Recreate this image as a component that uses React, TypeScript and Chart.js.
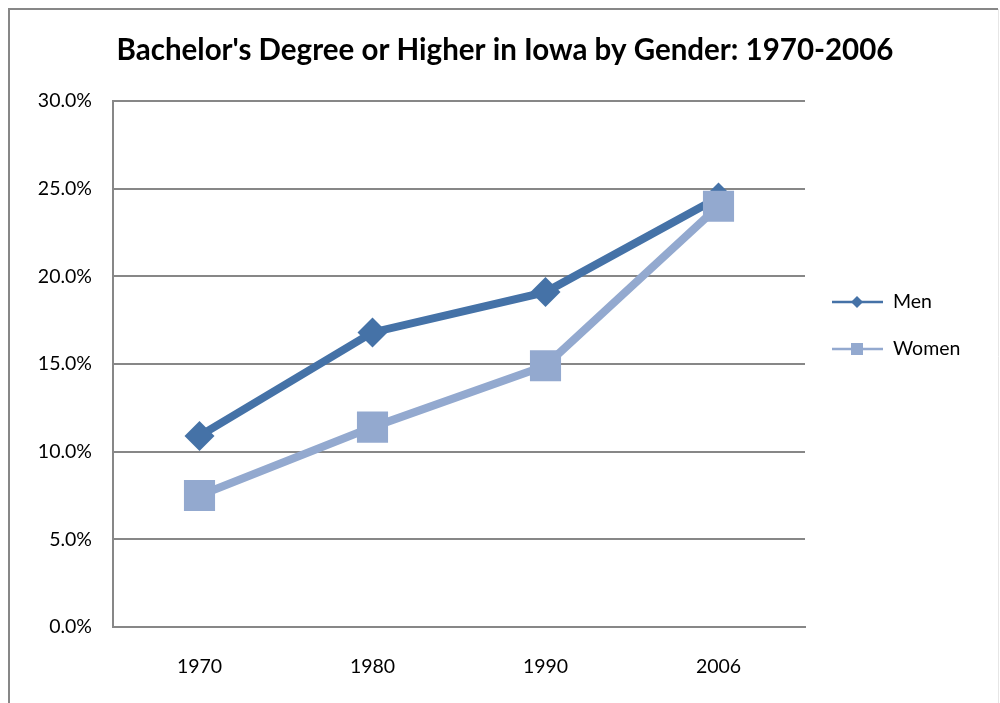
import React, { useEffect, useRef } from "react";
import { Chart, registerables } from "chart.js";

Chart.register(...registerables);

const title = "Bachelor's Degree or Higher in Iowa by Gender: 1970-2006";
const years = ["1970", "1980", "1990", "2006"];
const menValues = [10.9, 16.8, 19.1, 24.5];
const womenValues = [7.5, 11.4, 14.9, 24.0];
const seriesNames = ["Men", "Women"];
const yTicks = [0, 5, 10, 15, 20, 25, 30];

const MEN_COLOR = "#4572A7";
const WOMEN_COLOR = "#93A9CF";
const GRID = "#878787";
const FONT = "Lato, 'Open Sans', sans-serif";

const framePlugin = {
  id: "frame",
  beforeDraw(chart: any) {
    const ctx = chart.ctx;
    ctx.save();
    ctx.fillStyle = "#fff";
    ctx.fillRect(0, 0, chart.width, chart.height);
    ctx.strokeStyle = GRID;
    ctx.lineWidth = 2;
    ctx.beginPath();
    ctx.moveTo(9, chart.height + 5);
    ctx.lineTo(9, 9);
    ctx.lineTo(998, 9);
    ctx.stroke();
    ctx.strokeStyle = "#e6e6e6";
    ctx.lineWidth = 1;
    ctx.beginPath();
    ctx.moveTo(998.5, 9);
    ctx.lineTo(998.5, chart.height + 5);
    ctx.stroke();
    ctx.restore();
  },
  afterDraw(chart: any) {
    const ctx = chart.ctx;
    ctx.save();
    // title
    ctx.fillStyle = "#000";
    ctx.font = `bold 29.5px ${FONT}`;
    ctx.textAlign = "center";
    ctx.textBaseline = "middle";
    ctx.fillText(title, 505, 50);
    // legend
    const entries = [
      { label: seriesNames[0], color: MEN_COLOR, style: "diamond", y: 302 },
      { label: seriesNames[1], color: WOMEN_COLOR, style: "square", y: 349 },
    ];
    entries.forEach((e) => {
      ctx.strokeStyle = e.color;
      ctx.lineWidth = 2.5;
      ctx.beginPath();
      ctx.moveTo(832, e.y);
      ctx.lineTo(883, e.y);
      ctx.stroke();
      ctx.fillStyle = e.color;
      if (e.style === "diamond") {
        ctx.beginPath();
        ctx.moveTo(857, e.y - 6);
        ctx.lineTo(863, e.y);
        ctx.lineTo(857, e.y + 6);
        ctx.lineTo(851, e.y);
        ctx.closePath();
        ctx.fill();
      } else {
        ctx.fillRect(851, e.y - 6, 12, 12);
      }
      ctx.fillStyle = "#000";
      ctx.font = `19.5px ${FONT}`;
      ctx.textAlign = "left";
      ctx.textBaseline = "middle";
      ctx.fillText(e.label, 893, e.y);
    });
    ctx.restore();
  },
};

export default function App() {
  const ref = useRef<HTMLCanvasElement | null>(null);
  useEffect(() => {
    document.body.style.margin = "0";
    const chart = new Chart(ref.current as HTMLCanvasElement, {
      type: "line",
      data: {
        labels: years,
        datasets: [
          {
            label: seriesNames[0],
            data: menValues,
            borderColor: MEN_COLOR,
            backgroundColor: MEN_COLOR,
            borderWidth: 8,
            pointStyle: "rectRot",
            pointRadius: 15,
            pointBorderWidth: 0,
            pointBackgroundColor: MEN_COLOR,
            order: 1,
          },
          {
            label: seriesNames[1],
            data: womenValues,
            borderColor: WOMEN_COLOR,
            backgroundColor: WOMEN_COLOR,
            borderWidth: 8,
            pointStyle: "rect",
            pointRadius: 22,
            pointBorderWidth: 0,
            pointBackgroundColor: WOMEN_COLOR,
            order: 0,
          },
        ],
      },
      options: {
        animation: false,
        responsive: false,
        devicePixelRatio: 1,
        layout: { padding: { left: 0, top: 101, right: 195, bottom: 0 } },
        plugins: {
          legend: { display: false },
          title: { display: false },
          tooltip: { enabled: false },
        },
        scales: {
          x: {
            offset: true,
            grid: { display: false, drawTicks: false },
            border: { display: true, color: GRID, width: 2 },
            ticks: { color: "#000", font: { family: FONT, size: 19.5 }, padding: 28 },
            afterFit(scale: any) {
              scale.height = 76;
            },
          },
          y: {
            min: 0,
            max: 30,
            afterBuildTicks(scale: any) {
              scale.ticks = yTicks.map((v) => ({ value: v }));
            },
            grid: { color: GRID, lineWidth: 2, drawTicks: false },
            border: { display: true, color: GRID, width: 2 },
            ticks: {
              color: "#000",
              font: { family: FONT, size: 19.5 },
              padding: 21,
              callback: (v: any) => Number(v).toFixed(1) + "%",
            },
            afterFit(scale: any) {
              scale.width = 113;
            },
          },
        },
      },
      plugins: [framePlugin],
    });
    return () => chart.destroy();
  }, []);
  return <canvas ref={ref} width={1000} height={703} style={{ display: "block" }} />;
}
